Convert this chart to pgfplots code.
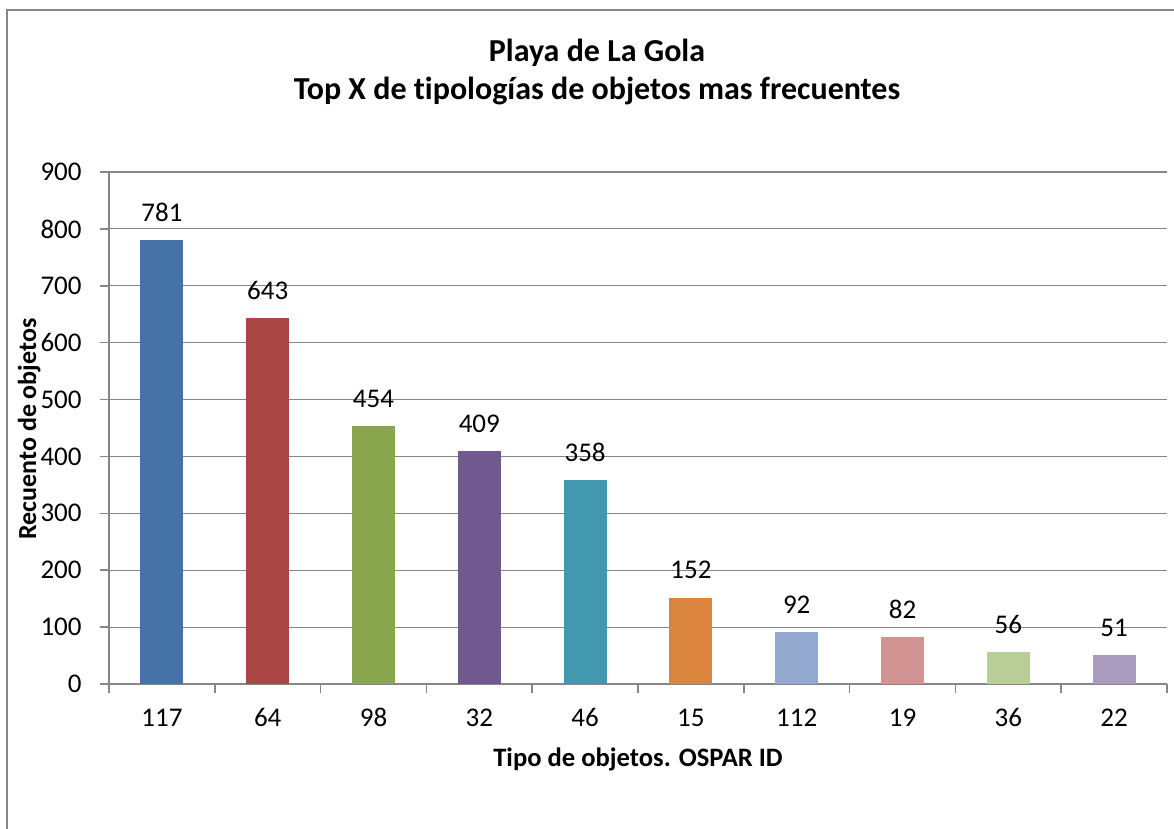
\documentclass[border=0pt]{standalone}
\usepackage{pgfplots}
\pgfplotsset{compat=1.18}
\usepackage{fontspec}
\setmainfont{Carlito}[Ligatures=NoCommon]
\definecolor{c1}{HTML}{4572A7}
\definecolor{c2}{HTML}{AA4643}
\definecolor{c3}{HTML}{89A54E}
\definecolor{c4}{HTML}{71588F}
\definecolor{c5}{HTML}{4198AF}
\definecolor{c6}{HTML}{DB843D}
\definecolor{c7}{HTML}{93A9CF}
\definecolor{c8}{HTML}{D19392}
\definecolor{c9}{HTML}{B9CD96}
\definecolor{c10}{HTML}{A99BBD}
\definecolor{gridc}{HTML}{868686}
\begin{document}
\begin{tikzpicture}
\useasboundingbox (0,0) rectangle (587pt,414.5pt);
\begin{scope}
\clip (0,0) rectangle (587pt,414.5pt);
\draw[color=gridc, line width=1pt] (3.5pt,-10pt) rectangle (600pt,409.5pt);
\end{scope}
\node[font=\fontsize{16}{19}\selectfont\bfseries, anchor=base, inner sep=0pt] at (298.5pt,383.5pt) {Playa de La Gola};
\node[font=\fontsize{16}{19}\selectfont\bfseries, anchor=base, inner sep=0pt] at (298.5pt,364.5pt) {Top X de tipologías de objetos mas frecuentes};
\node[font=\fontsize{13.3}{16}\selectfont\bfseries, anchor=base, inner sep=0pt] at (319pt,31pt) {Tipo de objetos. OSPAR ID};
\node[font=\fontsize{13}{16}\selectfont\bfseries, anchor=base, rotate=90, inner sep=0pt] at (18pt,200pt) {Recuento de objetos};
\begin{axis}[
  at={(54.5pt,72.5pt)}, anchor=south west,
  scale only axis, width=529pt, height=256pt,
  xmin=-0.5, xmax=9.5, ymin=0, ymax=900,
  /pgf/number format/assume math mode=true,
  ytick={0,100,...,900},
  xtick={-0.5,0.5,...,9.5},
  x tick label as interval,
  xticklabels={117,64,98,32,46,15,112,19,36,22},
  axis x line*=bottom, axis y line*=left,
  axis line style={gridc, line width=0.75pt, -},
  ymajorgrids, major grid style={gridc, line width=0.6pt},
  tick align=outside, major tick length=4.5pt,
  tick style={gridc, line width=0.75pt},
  ticklabel style={font=\fontsize{13.5}{16}\selectfont, text=black},
  yticklabel style={anchor=east, inner sep=0pt, xshift=-9pt},
  xticklabel style={anchor=base, inner sep=0pt, yshift=-17pt},
  nodes near coords,
  every node near coord/.append style={font=\fontsize{13.5}{16}\selectfont, text=black, anchor=base, inner sep=0pt, yshift=9.3pt},
]
\addplot[ybar, bar width=21.5pt, bar shift=0pt, fill=c1, draw=none] coordinates {(0,781)};
\addplot[ybar, bar width=21.5pt, bar shift=0pt, fill=c2, draw=none] coordinates {(1,643)};
\addplot[ybar, bar width=21.5pt, bar shift=0pt, fill=c3, draw=none] coordinates {(2,454)};
\addplot[ybar, bar width=21.5pt, bar shift=0pt, fill=c4, draw=none] coordinates {(3,409)};
\addplot[ybar, bar width=21.5pt, bar shift=0pt, fill=c5, draw=none] coordinates {(4,358)};
\addplot[ybar, bar width=21.5pt, bar shift=0pt, fill=c6, draw=none] coordinates {(5,152)};
\addplot[ybar, bar width=21.5pt, bar shift=0pt, fill=c7, draw=none] coordinates {(6,92)};
\addplot[ybar, bar width=21.5pt, bar shift=0pt, fill=c8, draw=none] coordinates {(7,82)};
\addplot[ybar, bar width=21.5pt, bar shift=0pt, fill=c9, draw=none] coordinates {(8,56)};
\addplot[ybar, bar width=21.5pt, bar shift=0pt, fill=c10, draw=none] coordinates {(9,51)};
\end{axis}
\end{tikzpicture}
\end{document}
